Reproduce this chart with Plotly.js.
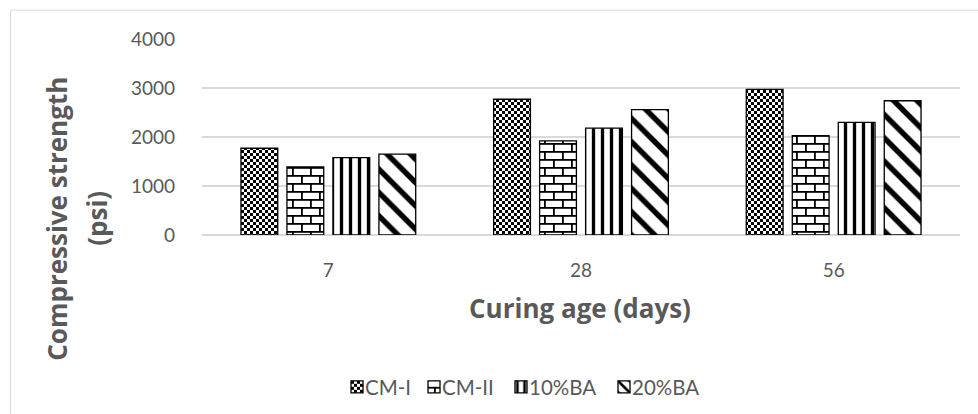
<!DOCTYPE html>
<html>
<head>
<meta charset="utf-8">
<script src="https://cdn.plot.ly/plotly-3.0.1.min.js"></script>
<style>
  html, body { margin: 0; padding: 0; background: #fff; }
  #chart { width: 978px; height: 414px; }
</style>
</head>
<body>
<div id="chart"></div>
<script>
// Compressive strength by curing age for each mix
const curingAges = ['7', '28', '56'];
const seriesNames = ['CM-I', 'CM-II', '10%BA', '20%BA'];
const cmI = [1770, 2770, 2970];
const cmII = [1390, 1920, 2030];
const ba10 = [1580, 2180, 2300];
const ba20 = [1650, 2560, 2740];
const yTicks = [0, 1000, 2000, 3000, 4000];

const textGrey = '#595959';
const gridGrey = '#d9d9d9';
const FONT = 'Lato, "Open Sans", sans-serif';
const TITLE_FONT = '"Open Sans", Lato, sans-serif';

function barTrace(name, values, pattern, legendwidth) {
  return {
    type: 'bar',
    name: name,
    x: curingAges,
    y: values,
    legendwidth: legendwidth,
    marker: {
      color: '#ffffff',
      line: { color: '#000000', width: 1.3 },
      pattern: pattern
    },
    hoverinfo: 'x+y+name'
  };
}

const data = [
  barTrace(seriesNames[0], cmI, { shape: 'x', fgcolor: '#000', bgcolor: '#fff', size: 6, solidity: 0.5 }, 32),
  barTrace(seriesNames[1], cmII, { shape: '+', fgcolor: '#000', bgcolor: '#fff', size: 9, solidity: 0.2 }, 42),
  barTrace(seriesNames[2], ba10, { shape: '|', fgcolor: '#000', bgcolor: '#fff', size: 9, solidity: 0.37 }, 58),
  barTrace(seriesNames[3], ba20, { shape: '\\', fgcolor: '#000', bgcolor: '#fff', size: 16.5, solidity: 0.33 }, 62)
];

// plot area in pixels: x 202..960, y 38.5..235.3
const W = 978, H = 414;
const PL = 202, PR = 960, PT = 38.5, PB = 235.3;
const px = v => (v - PL) / (PR - PL);
const py = v => (PB - v) / (PB - PT);

const layout = {
  width: W,
  height: H,
  margin: { l: PL, r: W - PR, t: PT, b: H - PB, pad: 0 },
  paper_bgcolor: '#ffffff',
  plot_bgcolor: '#ffffff',
  font: { family: FONT, color: textGrey, size: 19 },
  barmode: 'group',
  bargap: 0.272,
  bargroupgap: 0.2,
  showlegend: true,
  legend: {
    orientation: 'h',
    xref: 'container', yref: 'container',
    x: 325 / W, xanchor: 'left',
    y: (H - 387) / H, yanchor: 'middle',
    font: { family: FONT, color: textGrey, size: 20.5 },
    itemwidth: 30,
    traceorder: 'normal'
  },
  xaxis: {
    type: 'category',
    tickfont: { family: FONT, color: textGrey, size: 19 },
    showgrid: false,
    showline: false,
    zeroline: false,
    ticks: '',
    ticklabelstandoff: 22,
    automargin: false,
    fixedrange: true
  },
  yaxis: {
    range: [0, 4000],
    tickvals: yTicks,
    ticktext: yTicks.map(String),
    tickfont: { family: FONT, color: textGrey, size: 19 },
    showgrid: true,
    gridcolor: gridGrey,
    gridwidth: 1.3,
    zeroline: true,
    zerolinecolor: gridGrey,
    zerolinewidth: 1.3,
    showline: false,
    ticks: '',
    ticklabelstandoff: 26,
    automargin: false,
    fixedrange: true
  },
  annotations: [
    {
      text: '<b>Curing age (days)</b>',
      xref: 'paper', yref: 'paper',
      x: px(580), y: py(309),
      xanchor: 'center', yanchor: 'middle',
      showarrow: false,
      font: { family: TITLE_FONT, color: textGrey, size: 26 }
    },
    {
      text: '<b>Compressive strength</b>',
      xref: 'paper', yref: 'paper',
      x: px(57), y: py(219),
      xanchor: 'center', yanchor: 'middle',
      textangle: -90,
      showarrow: false,
      font: { family: TITLE_FONT, color: textGrey, size: 26 }
    },
    {
      text: '<b>(psi)</b>',
      xref: 'paper', yref: 'paper',
      x: px(97), y: py(218),
      xanchor: 'center', yanchor: 'middle',
      textangle: -90,
      showarrow: false,
      font: { family: TITLE_FONT, color: textGrey, size: 26 }
    }
  ],
  shapes: [
    {
      type: 'rect',
      xref: 'paper', yref: 'paper',
      x0: px(10.5), x1: px(1000),
      y0: py(440), y1: py(9.5),
      line: { color: gridGrey, width: 1 },
      fillcolor: 'rgba(0,0,0,0)',
      layer: 'below'
    }
  ]
};

// Checkerboard and brick fills for the first two series,
// and legend swatches set closer to their labels
function finishStyling(gd) {
  const svgNS = 'http://www.w3.org/2000/svg';
  const svg = gd.querySelector('.main-svg');
  let defs = svg.querySelector('defs');
  if (!defs) { defs = document.createElementNS(svgNS, 'defs'); svg.insertBefore(defs, svg.firstChild); }

  function el(tag, attrs) {
    const e = document.createElementNS(svgNS, tag);
    for (const k in attrs) e.setAttribute(k, attrs[k]);
    return e;
  }

  const checker = el('pattern', { id: 'fill-checker', patternUnits: 'userSpaceOnUse', width: 6, height: 6 });
  checker.appendChild(el('rect', { x: 0, y: 0, width: 6, height: 6, fill: '#fff' }));
  checker.appendChild(el('rect', { x: 0, y: 0, width: 3, height: 3, fill: '#000' }));
  checker.appendChild(el('rect', { x: 3, y: 3, width: 3, height: 3, fill: '#000' }));
  defs.appendChild(checker);

  const brick = el('pattern', { id: 'fill-brick', patternUnits: 'userSpaceOnUse', width: 18, height: 16 });
  brick.appendChild(el('rect', { x: 0, y: 0, width: 18, height: 16, fill: '#fff' }));
  brick.appendChild(el('rect', { x: 0, y: 0, width: 18, height: 1.8, fill: '#000' }));
  brick.appendChild(el('rect', { x: 0, y: 8, width: 18, height: 1.8, fill: '#000' }));
  brick.appendChild(el('rect', { x: 0, y: 0, width: 1.8, height: 8, fill: '#000' }));
  brick.appendChild(el('rect', { x: 9, y: 8, width: 1.8, height: 8, fill: '#000' }));
  defs.appendChild(brick);

  const fills = ['url(#fill-checker)', 'url(#fill-brick)'];
  const barTraces = gd.querySelectorAll('.barlayer .trace');
  const legendTraces = gd.querySelectorAll('.legend .traces');
  fills.forEach((f, i) => {
    if (barTraces[i]) barTraces[i].querySelectorAll('.point path').forEach(p => { p.style.fill = f; });
    if (legendTraces[i]) legendTraces[i].querySelectorAll('.legendpoints path').forEach(p => { p.style.fill = f; });
  });
  legendTraces.forEach(t => {
    const pts = t.querySelector('.legendpoints');
    if (pts) pts.setAttribute('transform', 'translate(12,0)');
  });
}

const gd = document.getElementById('chart');
Plotly.newPlot(gd, data, layout, { displayModeBar: false, staticPlot: true }).then(finishStyling);
</script>
</body>
</html>
